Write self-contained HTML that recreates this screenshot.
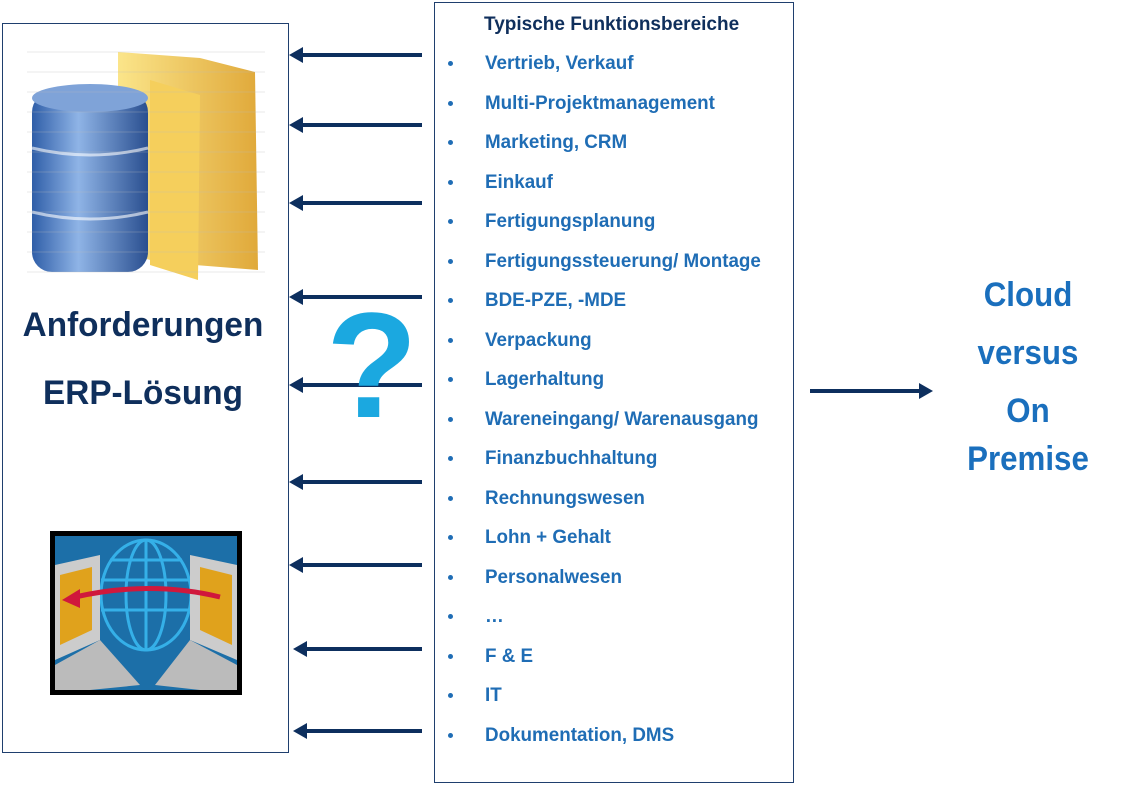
<!DOCTYPE html>
<html><head><meta charset="utf-8"><style>
body{margin:0;width:1124px;height:788px;background:#fff;position:relative;overflow:hidden;font-family:"Liberation Sans",sans-serif;font-weight:bold}
.box{position:absolute;border:1.5px solid #1f3f6e;box-sizing:border-box}
.t{position:absolute;white-space:nowrap;transform-origin:0 50%;transform:scaleX(0.99)}
.li{color:#1f6db5;font-size:19px}
.dot{position:absolute;width:5px;height:5px;border-radius:50%;background:#1f6db5}
.big{position:absolute;color:#0f2f5c;font-size:34px;width:286px;text-align:center;left:0;transform:scaleX(0.98)}
.cl{position:absolute;color:#1a6fbd;font-size:34px;width:200px;text-align:center;left:928px;transform:scaleX(0.92)}
</style></head><body>
<div class="box" style="left:2px;top:23px;width:287px;height:730px"></div>
<div class="box" style="left:434px;top:2px;width:360px;height:781px"></div>

<svg style="position:absolute;left:0;top:0" width="1124" height="788">
<g stroke="#0d2f5e" stroke-width="4" fill="#0d2f5e">
<line x1="422" y1="55" x2="300" y2="55"/><polygon points="289,55 303,47 303,63" stroke="none"/>
<line x1="422" y1="125" x2="300" y2="125"/><polygon points="289,125 303,117 303,133" stroke="none"/>
<line x1="422" y1="203" x2="300" y2="203"/><polygon points="289,203 303,195 303,211" stroke="none"/>
<line x1="422" y1="297" x2="300" y2="297"/><polygon points="289,297 303,289 303,305" stroke="none"/>
<line x1="422" y1="385" x2="300" y2="385"/><polygon points="289,385 303,377 303,393" stroke="none"/>
<line x1="422" y1="482" x2="300" y2="482"/><polygon points="289,482 303,474 303,490" stroke="none"/>
<line x1="422" y1="565" x2="300" y2="565"/><polygon points="289,565 303,557 303,573" stroke="none"/>
<line x1="422" y1="649" x2="304" y2="649"/><polygon points="293,649 307,641 307,657" stroke="none"/>
<line x1="422" y1="731" x2="304" y2="731"/><polygon points="293,731 307,723 307,739" stroke="none"/>
<line x1="810" y1="391" x2="922" y2="391"/><polygon points="933,391 919,383 919,399" stroke="none"/>
</g>
<defs>
<linearGradient id="cyl" x1="0" x2="1"><stop offset="0" stop-color="#2f5ea8"/><stop offset=".4" stop-color="#8fb4e6"/><stop offset="1" stop-color="#2a4f90"/></linearGradient>
<linearGradient id="fold" x1="0" x2="1"><stop offset="0" stop-color="#fbe58a"/><stop offset="1" stop-color="#e0a93a"/></linearGradient>
</defs>
<polygon points="118,52 200,58 255,72 258,270 195,265 150,260 118,250" fill="url(#fold)"/>
<polygon points="150,80 200,95 198,280 150,265" fill="#f5cf5c"/>
<rect x="32" y="92" width="116" height="180" rx="20" fill="url(#cyl)"/>
<ellipse cx="90" cy="98" rx="58" ry="14" fill="#7fa3d8"/>
<path d="M32 148 Q90 162 148 148" stroke="#fff" stroke-width="3" fill="none" opacity=".6"/>
<path d="M32 212 Q90 226 148 212" stroke="#fff" stroke-width="3" fill="none" opacity=".6"/>
<g stroke="#bbb" stroke-width="0.6" opacity=".6">
<line x1="27" y1="52" x2="265" y2="52"/><line x1="27" y1="72" x2="265" y2="72"/><line x1="27" y1="92" x2="265" y2="92"/><line x1="27" y1="112" x2="265" y2="112"/><line x1="27" y1="132" x2="265" y2="132"/><line x1="27" y1="152" x2="265" y2="152"/><line x1="27" y1="172" x2="265" y2="172"/><line x1="27" y1="192" x2="265" y2="192"/><line x1="27" y1="212" x2="265" y2="212"/><line x1="27" y1="232" x2="265" y2="232"/><line x1="27" y1="252" x2="265" y2="252"/><line x1="27" y1="272" x2="265" y2="272"/>
</g>
<rect x="50" y="531" width="192" height="164" fill="#000"/>
<rect x="55" y="536" width="182" height="154" fill="#1c6fa8"/>
<g stroke="#35b0e8" stroke-width="3" fill="none">
<ellipse cx="146" cy="595" rx="45" ry="55"/><ellipse cx="146" cy="595" rx="20" ry="55"/>
<line x1="146" y1="540" x2="146" y2="650"/><line x1="101" y1="580" x2="191" y2="580"/><line x1="101" y1="610" x2="191" y2="610"/><line x1="110" y1="560" x2="182" y2="560"/>
</g>
<polygon points="55,565 100,555 100,640 55,660" fill="#ccc"/><polygon points="60,575 92,567 92,630 60,645" fill="#e0a21c"/>
<polygon points="237,565 190,555 190,640 237,660" fill="#ccc"/><polygon points="232,575 200,567 200,630 232,645" fill="#e0a21c"/>
<polygon points="55,665 100,640 140,685 90,690 55,690" fill="#bbb"/>
<polygon points="237,665 190,640 155,685 200,690 237,690" fill="#bbb"/>
<path d="M220 597 Q150 580 75 597" stroke="#d0183c" stroke-width="5" fill="none"/><polygon points="62,600 80,589 80,608" fill="#d0183c"/>
</svg>

<div class="big" style="top:306px">Anforderungen</div>
<div class="big" style="top:374px">ERP-Lösung</div>
<div style="position:absolute;left:326px;top:290px;color:#1ba8e0;font-size:150px;font-weight:bold;line-height:150px">?</div>

<div class="cl" style="top:276px">Cloud</div>
<div class="cl" style="top:334px">versus</div>
<div class="cl" style="top:392px">On</div>
<div class="cl" style="top:440px">Premise</div>

<div class="t" style="left:484px;top:14px;font-size:19px;color:#0f2f5c;transform:scaleX(1.0)">Typische Funktionsbereiche</div>
<div class="dot" style="left:448px;top:61px"></div><div class="t li" style="left:485px;top:53px">Vertrieb, Verkauf</div>
<div class="dot" style="left:448px;top:101px"></div><div class="t li" style="left:485px;top:93px">Multi-Projektmanagement</div>
<div class="dot" style="left:448px;top:140px"></div><div class="t li" style="left:485px;top:132px">Marketing, CRM</div>
<div class="dot" style="left:448px;top:180px"></div><div class="t li" style="left:485px;top:172px">Einkauf</div>
<div class="dot" style="left:448px;top:219px"></div><div class="t li" style="left:485px;top:211px">Fertigungsplanung</div>
<div class="dot" style="left:448px;top:259px"></div><div class="t li" style="left:485px;top:251px">Fertigungssteuerung/ Montage</div>
<div class="dot" style="left:448px;top:298px"></div><div class="t li" style="left:485px;top:290px">BDE-PZE, -MDE</div>
<div class="dot" style="left:448px;top:338px"></div><div class="t li" style="left:485px;top:330px">Verpackung</div>
<div class="dot" style="left:448px;top:377px"></div><div class="t li" style="left:485px;top:369px">Lagerhaltung</div>
<div class="dot" style="left:448px;top:417px"></div><div class="t li" style="left:485px;top:409px">Wareneingang/ Warenausgang</div>
<div class="dot" style="left:448px;top:456px"></div><div class="t li" style="left:485px;top:448px">Finanzbuchhaltung</div>
<div class="dot" style="left:448px;top:496px"></div><div class="t li" style="left:485px;top:488px">Rechnungswesen</div>
<div class="dot" style="left:448px;top:535px"></div><div class="t li" style="left:485px;top:527px">Lohn + Gehalt</div>
<div class="dot" style="left:448px;top:575px"></div><div class="t li" style="left:485px;top:567px">Personalwesen</div>
<div class="dot" style="left:448px;top:614px"></div><div class="t li" style="left:485px;top:606px">…</div>
<div class="dot" style="left:448px;top:654px"></div><div class="t li" style="left:485px;top:646px">F &amp; E</div>
<div class="dot" style="left:448px;top:693px"></div><div class="t li" style="left:485px;top:685px">IT</div>
<div class="dot" style="left:448px;top:733px"></div><div class="t li" style="left:485px;top:725px">Dokumentation, DMS</div>
</body></html>
